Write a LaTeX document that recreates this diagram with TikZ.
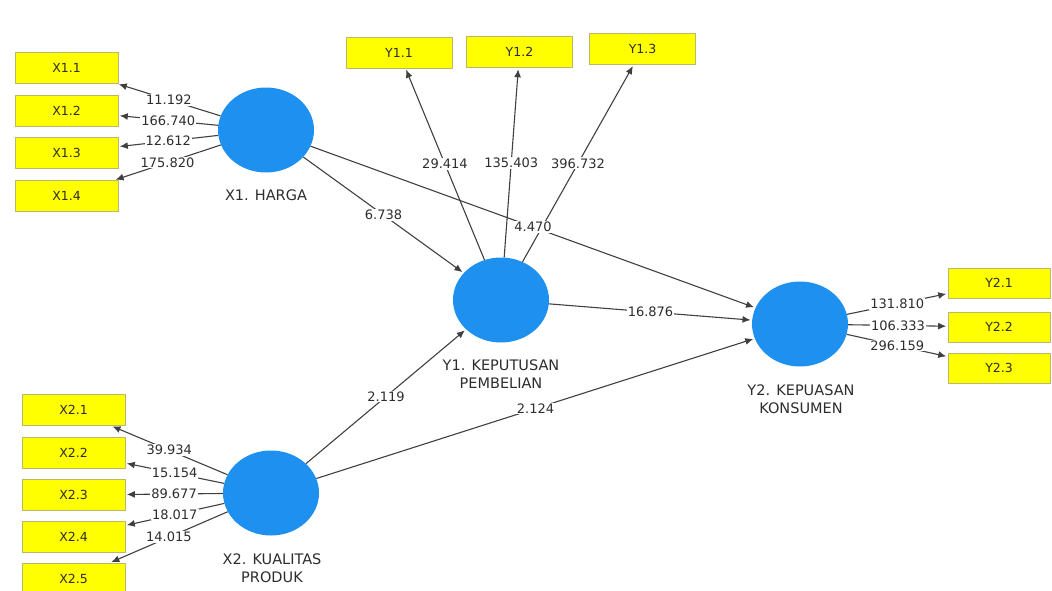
\documentclass[tikz,border=0pt]{standalone}
\usepackage{fontspec}
\setmainfont{DejaVu Sans}
\usetikzlibrary{arrows.meta,shapes.geometric}
\definecolor{indfill}{RGB}{255,255,0}
\definecolor{indline}{RGB}{185,185,110}
\definecolor{latfill}{RGB}{30,144,240}
\definecolor{txt}{RGB}{45,45,45}
\begin{document}
\begin{tikzpicture}[x=1pt,y=-1pt,
  ind/.style={rectangle, fill=indfill, draw=indline, line width=0.6pt, minimum width=103pt, minimum height=31pt, inner sep=0pt, text=txt, font=\fontsize{12.5}{14}\selectfont},
  lv/.style={ellipse, fill=latfill, minimum width=96pt, minimum height=85pt, inner sep=0pt},
  lvlab/.style={align=center, text=txt, font=\fontsize{14.5}{18}\selectfont},
  arr/.style={-{Latex[length=8pt,width=7pt]}, line width=1.1pt, draw=black!75, shorten >=1.5pt},
  val/.style={fill=white, inner sep=1pt, text=txt, font=\fontsize{13}{15}\selectfont}]
\useasboundingbox (0,0) rectangle (1052,590);
\clip (0,0) rectangle (1052,590);
% latent variables
\node[lv] (x1) at (266,130) {};
\node[lv] (y1) at (501,300) {};
\node[lv] (y2) at (800,324) {};
\node[lv] (x2) at (271,493) {};
\node[lvlab] (x1lab) at (266,195) {X1. HARGA};
\node[lvlab] (y1lab) at (501,374) {Y1. KEPUTUSAN\\PEMBELIAN};
\node[lvlab] (y2lab) at (801,399) {Y2. KEPUASAN\\KONSUMEN};
\node[lvlab] (x2lab) at (272,568) {X2. KUALITAS\\PRODUK};
% indicators
\node[ind] (x11) at (66.5,68) {X1.1};
\node[ind] (x12) at (66.5,110.5) {X1.2};
\node[ind] (x13) at (66.5,152.5) {X1.3};
\node[ind] (x14) at (66.5,196) {X1.4};
\node[ind] (x21) at (73.5,410) {X2.1};
\node[ind] (x22) at (73.5,452.5) {X2.2};
\node[ind] (x23) at (73.5,495) {X2.3};
\node[ind] (x24) at (73.5,537) {X2.4};
\node[ind] (x25) at (73.5,578.5) {X2.5};
\node[ind, minimum width=106pt] (y11) at (399,52.5) {Y1.1};
\node[ind, minimum width=106pt] (y12) at (519.5,52) {Y1.2};
\node[ind, minimum width=106pt] (y13) at (642.5,49) {Y1.3};
\node[ind, minimum width=102pt, minimum height=30pt] (y21) at (999,283) {Y2.1};
\node[ind, minimum width=102pt, minimum height=30pt] (y22) at (999,327) {Y2.2};
\node[ind, minimum width=102pt, minimum height=30pt] (y23) at (999,368) {Y2.3};
% outer loadings
\draw[arr] (x1) -- node[val]{11.192} (x11);
\draw[arr] (x1) -- node[val]{166.740} (x12);
\draw[arr] (x1) -- node[val]{12.612} (x13);
\draw[arr] (x1) -- node[val]{175.820} (x14);
\draw[arr] (x2) -- node[val]{39.934} (x21);
\draw[arr] (x2) -- node[val]{15.154} (x22);
\draw[arr] (x2) -- node[val]{89.677} (x23);
\draw[arr] (x2) -- node[val]{18.017} (x24);
\draw[arr] (x2) -- node[val]{14.015} (x25);
\draw[arr] (y1) -- node[val]{29.414} (y11);
\draw[arr] (y1) -- node[val]{135.403} (y12);
\draw[arr] (y1) -- node[val]{396.732} (y13);
\draw[arr] (y2) -- node[val]{131.810} (y21);
\draw[arr] (y2) -- node[val]{106.333} (y22);
\draw[arr] (y2) -- node[val]{296.159} (y23);
% structural paths
\draw[arr] (x1) -- node[val]{6.738} (y1);
\draw[arr] (x1) -- node[val]{4.470} (y2);
\draw[arr] (y1) -- node[val]{16.876} (y2);
\draw[arr] (x2) -- node[val]{2.119} (y1);
\draw[arr] (x2) -- node[val]{2.124} (y2);
\end{tikzpicture}
\end{document}
